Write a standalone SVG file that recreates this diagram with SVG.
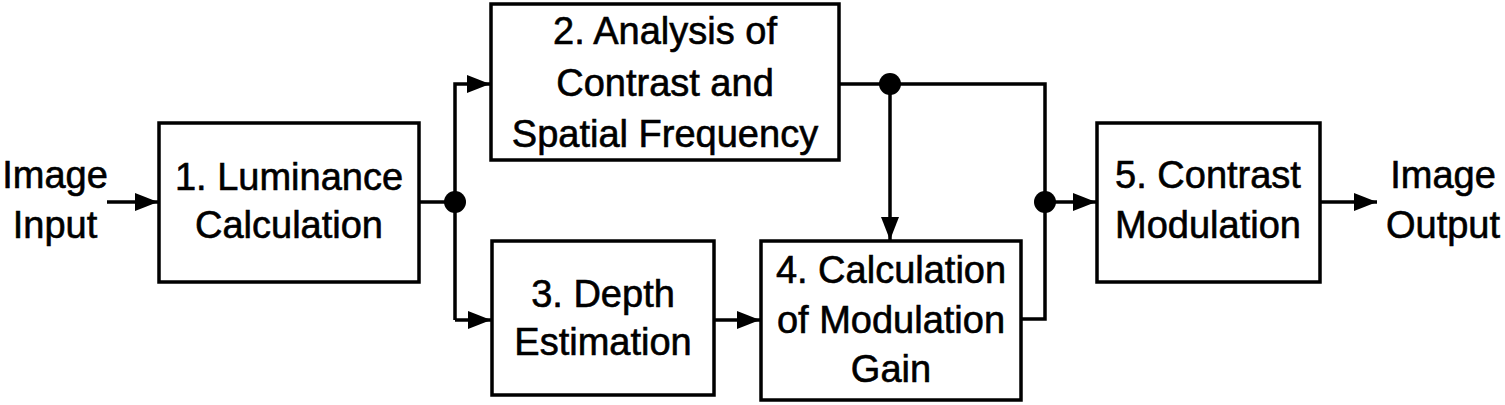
<svg xmlns="http://www.w3.org/2000/svg" width="1505" height="405" viewBox="0 0 1505 405">
<style>
.box{fill:#fff;stroke:#000;stroke-width:3.5}
.ln{fill:none;stroke:#000;stroke-width:3.5}
text{font-family:"Liberation Sans",Arial,sans-serif;font-size:38px;fill:#000;stroke:#000;stroke-width:0.6;text-anchor:middle}
</style>
<defs>
<marker id="ah" markerUnits="userSpaceOnUse" markerWidth="24" markerHeight="20" refX="23" refY="9" orient="auto">
<path d="M0,0 L23,9 L0,18 Z" fill="#000"/>
</marker>
</defs>
<rect width="1505" height="405" fill="#fff"/>
<g id="connectors">
<path class="ln" d="M107,202 H158" marker-end="url(#ah)"/>
<path class="ln" d="M419,202 H455"/>
<path class="ln" d="M455,320 V84 H490" marker-end="url(#ah)"/>
<path class="ln" d="M455,320 H491" marker-end="url(#ah)"/>
<path class="ln" d="M714,320 H760" marker-end="url(#ah)"/>
<path class="ln" d="M839,84 H1045 V319 H1021"/>
<path class="ln" d="M890,84 V240" marker-end="url(#ah)"/>
<path class="ln" d="M1045,202 H1096" marker-end="url(#ah)"/>
<path class="ln" d="M1320,202 H1377" marker-end="url(#ah)"/>
<circle cx="455" cy="202" r="11"/>
<circle cx="890" cy="84" r="11"/>
<circle cx="1045" cy="202" r="11"/>
</g>
<g id="in"><text x="55" y="188">Image</text><text x="55" y="238">Input</text></g>
<g id="n1"><rect class="box" x="159" y="123" width="260" height="159"/><text x="289" y="190">1. Luminance</text><text x="289" y="238">Calculation</text></g>
<g id="n2"><rect class="box" x="491" y="4" width="348" height="156"/><text x="665" y="44">2. Analysis of</text><text x="665" y="96">Contrast and</text><text x="665" y="147">Spatial Frequency</text></g>
<g id="n3"><rect class="box" x="492" y="241" width="222" height="154"/><text x="603" y="307">3. Depth</text><text x="603" y="355">Estimation</text></g>
<g id="n4"><rect class="box" x="761" y="241" width="260" height="159"/><text x="891" y="283">4. Calculation</text><text x="891" y="333">of Modulation</text><text x="891" y="382">Gain</text></g>
<g id="n5"><rect class="box" x="1097" y="123" width="223" height="159"/><text x="1208" y="188">5. Contrast</text><text x="1208" y="238">Modulation</text></g>
<g id="out"><text x="1443" y="188">Image</text><text x="1443" y="238">Output</text></g>
</svg>
